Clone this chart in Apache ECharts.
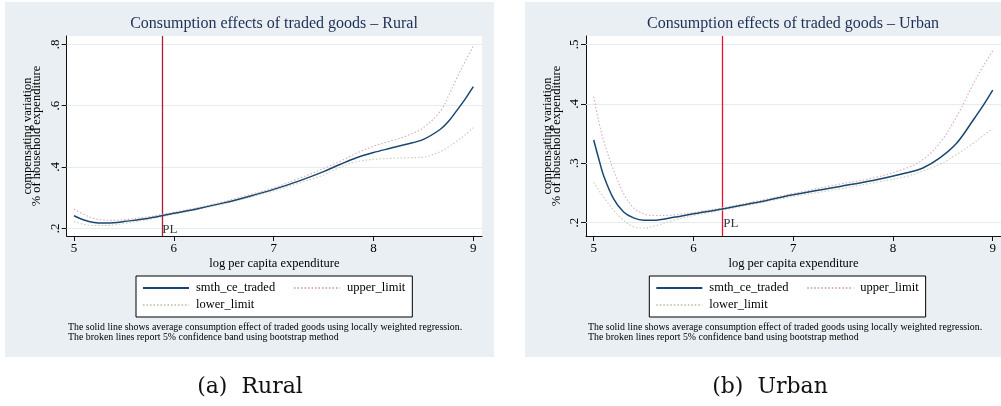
<!DOCTYPE html>
<html><head><meta charset="utf-8">
<script src="https://cdn.jsdelivr.net/npm/echarts@6/dist/echarts.min.js"></script>
<style>html,body{margin:0;padding:0;background:#fff}#c{width:1001px;height:406px}</style>
</head><body><div id="c"></div>
<script>
// ---------- data ----------
const SERIES_NAMES = ['smth_ce_traded', 'upper_limit', 'lower_limit'];
const X_TICKS = [5, 6, 7, 8, 9];
const RURAL_Y_TICKS = [0.2, 0.4, 0.6, 0.8];
const URBAN_Y_TICKS = [0.2, 0.3, 0.4, 0.5];
const RURAL_PL = 5.875;
const URBAN_PL = 6.29;
const PL_TEXT = 'PL';

const RURAL_X     = [5, 5.1, 5.2, 5.3, 5.4, 5.5, 5.75, 6, 6.25, 6.5, 6.75, 7, 7.25, 7.5, 7.67, 7.83, 8, 8.17, 8.33, 8.5, 8.67, 8.75, 8.83, 8.92, 9];
const RURAL_MAIN  = [0.241, 0.227, 0.219, 0.217, 0.218, 0.222, 0.233, 0.249, 0.265, 0.283, 0.304, 0.327, 0.354, 0.385, 0.409, 0.430, 0.447, 0.461, 0.474, 0.490, 0.523, 0.548, 0.582, 0.622, 0.662];
const RURAL_UPPER = [0.263, 0.245, 0.232, 0.227, 0.226, 0.228, 0.238, 0.252, 0.268, 0.287, 0.309, 0.332, 0.362, 0.395, 0.419, 0.445, 0.468, 0.485, 0.501, 0.528, 0.582, 0.630, 0.687, 0.745, 0.794];
const RURAL_LOWER = [0.222, 0.213, 0.209, 0.209, 0.211, 0.216, 0.229, 0.246, 0.262, 0.280, 0.300, 0.322, 0.347, 0.374, 0.400, 0.417, 0.425, 0.428, 0.430, 0.432, 0.450, 0.465, 0.483, 0.505, 0.528];

const URBAN_X     = [5, 5.05, 5.1, 5.2, 5.3, 5.4, 5.5, 5.6, 5.8, 6, 6.29, 6.6, 7, 7.47, 7.8, 8.14, 8.3, 8.47, 8.64, 8.81, 8.9, 9];
const URBAN_MAIN  = [0.339, 0.308, 0.279, 0.240, 0.218, 0.208, 0.204, 0.204, 0.209, 0.215, 0.223, 0.233, 0.247, 0.261, 0.271, 0.284, 0.292, 0.309, 0.334, 0.374, 0.396, 0.423];
const URBAN_UPPER = [0.412, 0.371, 0.338, 0.288, 0.249, 0.225, 0.215, 0.212, 0.213, 0.217, 0.225, 0.235, 0.249, 0.265, 0.275, 0.292, 0.306, 0.334, 0.379, 0.435, 0.462, 0.489];
const URBAN_LOWER = [0.268, 0.255, 0.243, 0.221, 0.204, 0.193, 0.191, 0.194, 0.204, 0.212, 0.221, 0.231, 0.244, 0.257, 0.267, 0.278, 0.287, 0.298, 0.315, 0.334, 0.346, 0.358];

const TITLES = ['Consumption effects of traded goods \u2013 Rural', 'Consumption effects of traded goods \u2013 Urban'];
const X_NAME = 'log per capita expenditure';
const Y_NAME = 'compensating variation\n% of household expenditure';
const NOTE = 'The solid line shows average consumption effect of traded goods using locally weighted regression.\nThe broken lines report 5% confidence band using bootstrap method';
const CAPTIONS = ['(a)  Rural', '(b)  Urban'];

// ---------- styling ----------
const SERIF = '"Liberation Serif", "Times New Roman", serif';
const PANEL_BG = '#e9eff2';
const GRID_LINE = '#e3ecee';
const COLORS = ['#1a476f', '#dcaab6', '#c7cdb3'];

const zip = (xs, ys) => xs.map((x, i) => [x, ys[i]]);
const yFmt = v => String(+(+v).toFixed(2)).replace(/^0\./, '.');

function panelSeries(gi, xs, main, upper, lower, yTicks, pl, plColor, plLabelY) {
  const vals = [main, upper, lower];
  const out = [];
  out.push({
    type: 'line', xAxisIndex: gi, yAxisIndex: gi, data: [], z: 1, silent: true,
    markLine: {
      z: 1, silent: true, symbol: 'none', animation: false, label: { show: false },
      data: yTicks.map(v => ({ yAxis: v, lineStyle: { color: GRID_LINE, width: 1, type: 'solid' } }))
    }
  });
  out.push({
    type: 'line', xAxisIndex: gi, yAxisIndex: gi, data: [], z: 2, silent: true,
    markLine: {
      z: 2, silent: true, symbol: 'none', animation: false, label: { show: false },
      data: [{ xAxis: pl, lineStyle: { color: plColor, width: 1.3, type: 'solid' } }]
    }
  });
  SERIES_NAMES.forEach((n, k) => {
    out.push({
      name: n, type: 'line', xAxisIndex: gi, yAxisIndex: gi,
      data: zip(xs, vals[k]), symbol: 'none', smooth: 0.35, z: k === 0 ? 5 : 4,
      lineStyle: { color: COLORS[k], width: k === 0 ? 1.5 : 1.1, type: k === 0 ? 'solid' : [1.5, 2] },
      itemStyle: { color: COLORS[k] }, animation: false
    });
  });
  out.push({
    type: 'scatter', xAxisIndex: gi, yAxisIndex: gi, data: [[pl, plLabelY]], symbolSize: 0, silent: true, z: 6,
    label: { show: true, formatter: PL_TEXT, position: 'right', distance: 1, color: '#000', fontFamily: SERIF, fontSize: 13 },
    animation: false
  });
  return out;
}

function xAxisOpt(gi, min, max) {
  return {
    type: 'value', gridIndex: gi, min: min, max: max,
    name: X_NAME, nameLocation: 'middle', nameGap: 21,
    nameTextStyle: { fontFamily: SERIF, fontSize: 12.5, color: '#000' },
    axisLine: { show: true, lineStyle: { color: '#111', width: 1 } },
    axisTick: { show: true, customValues: X_TICKS, length: 5, inside: false, lineStyle: { color: '#111' } },
    axisLabel: { customValues: X_TICKS, formatter: v => String(v), margin: 6, fontFamily: SERIF, fontSize: 13, color: '#000' },
    splitLine: { show: false }
  };
}
function yAxisOpt(gi, min, max, ticks) {
  return {
    type: 'value', gridIndex: gi, min: min, max: max,
    name: Y_NAME, nameLocation: 'middle', nameGap: 25, nameRotate: 90,
    nameTextStyle: { fontFamily: SERIF, fontSize: 12.5, lineHeight: 9, color: '#000' },
    axisLine: { show: true, lineStyle: { color: '#111', width: 1 } },
    axisTick: { show: true, customValues: ticks, length: 5, inside: false, lineStyle: { color: '#111' } },
    axisLabel: { customValues: ticks, formatter: yFmt, rotate: 90, margin: 5, fontFamily: SERIF, fontSize: 13, color: '#000' },
    splitLine: { show: false }
  };
}
function legendOpt(left) {
  return {
    left: left, top: 276, orient: 'horizontal', width: 272,
    padding: [5, 7, 5, 6], itemGap: 3, itemWidth: 46, itemHeight: 14,
    borderColor: '#000', borderWidth: 1, backgroundColor: '#fff', borderRadius: 0,
    itemStyle: { opacity: 0 },
    textStyle: { fontFamily: SERIF, fontSize: 12.5, color: '#000', lineHeight: 14, padding: [0, 0, 0, 2] },
    data: [
      { name: SERIES_NAMES[0], textStyle: { width: 94 } },
      { name: SERIES_NAMES[1] },
      { name: SERIES_NAMES[2] }
    ],
    selectedMode: false
  };
}

const chart = echarts.init(document.getElementById('c'), null, { renderer: 'canvas' });
chart.setOption({
  animation: false,
  backgroundColor: '#fff',
  graphic: [
    { type: 'rect', z: -100, silent: true, shape: { x: 5, y: 2, width: 489, height: 355 }, style: { fill: PANEL_BG } },
    { type: 'rect', z: -100, silent: true, shape: { x: 525, y: 2, width: 476, height: 355 }, style: { fill: PANEL_BG } },
    { type: 'text', x: 274, y: 24, style: { text: TITLES[0], textAlign: 'center', textVerticalAlign: 'middle', font: '16px ' + SERIF, fill: '#1e2f55' } },
    { type: 'text', x: 793, y: 24, style: { text: TITLES[1], textAlign: 'center', textVerticalAlign: 'middle', font: '16px ' + SERIF, fill: '#1e2f55' } },
    { type: 'text', x: 68, y: 322, style: { text: NOTE, font: '9.9px ' + SERIF, lineHeight: 10, fill: '#000' } },
    { type: 'text', x: 588, y: 322, style: { text: NOTE, font: '9.9px ' + SERIF, lineHeight: 10, fill: '#000' } },
    { type: 'text', x: 250, y: 387, style: { text: CAPTIONS[0], textAlign: 'center', textVerticalAlign: 'middle', font: '22px "DejaVu Serif", serif', fill: '#111' } },
    { type: 'text', x: 770, y: 387, style: { text: CAPTIONS[1], textAlign: 'center', textVerticalAlign: 'middle', font: '22px "DejaVu Serif", serif', fill: '#111' } }
  ],
  grid: [
    { left: 66.7, top: 36, width: 415.3, height: 200, show: true, backgroundColor: '#fff', borderWidth: 0, containLabel: false },
    { left: 586, top: 36, width: 415, height: 200, show: true, backgroundColor: '#fff', borderWidth: 0, containLabel: false }
  ],
  xAxis: [xAxisOpt(0, 4.927, 9.087), xAxisOpt(1, 4.923, 9.083)],
  yAxis: [yAxisOpt(0, 0.175, 0.827, RURAL_Y_TICKS), yAxisOpt(1, 0.1776, 0.514, URBAN_Y_TICKS)],
  legend: [legendOpt(136), legendOpt(655.3 - 6)],
  series: []
    .concat(panelSeries(0, RURAL_X, RURAL_MAIN, RURAL_UPPER, RURAL_LOWER, RURAL_Y_TICKS, RURAL_PL, '#b01a3c', 0.1967))
    .concat(panelSeries(1, URBAN_X, URBAN_MAIN, URBAN_UPPER, URBAN_LOWER, URBAN_Y_TICKS, URBAN_PL, '#e5132f', 0.198))
});
</script>
</body></html>
